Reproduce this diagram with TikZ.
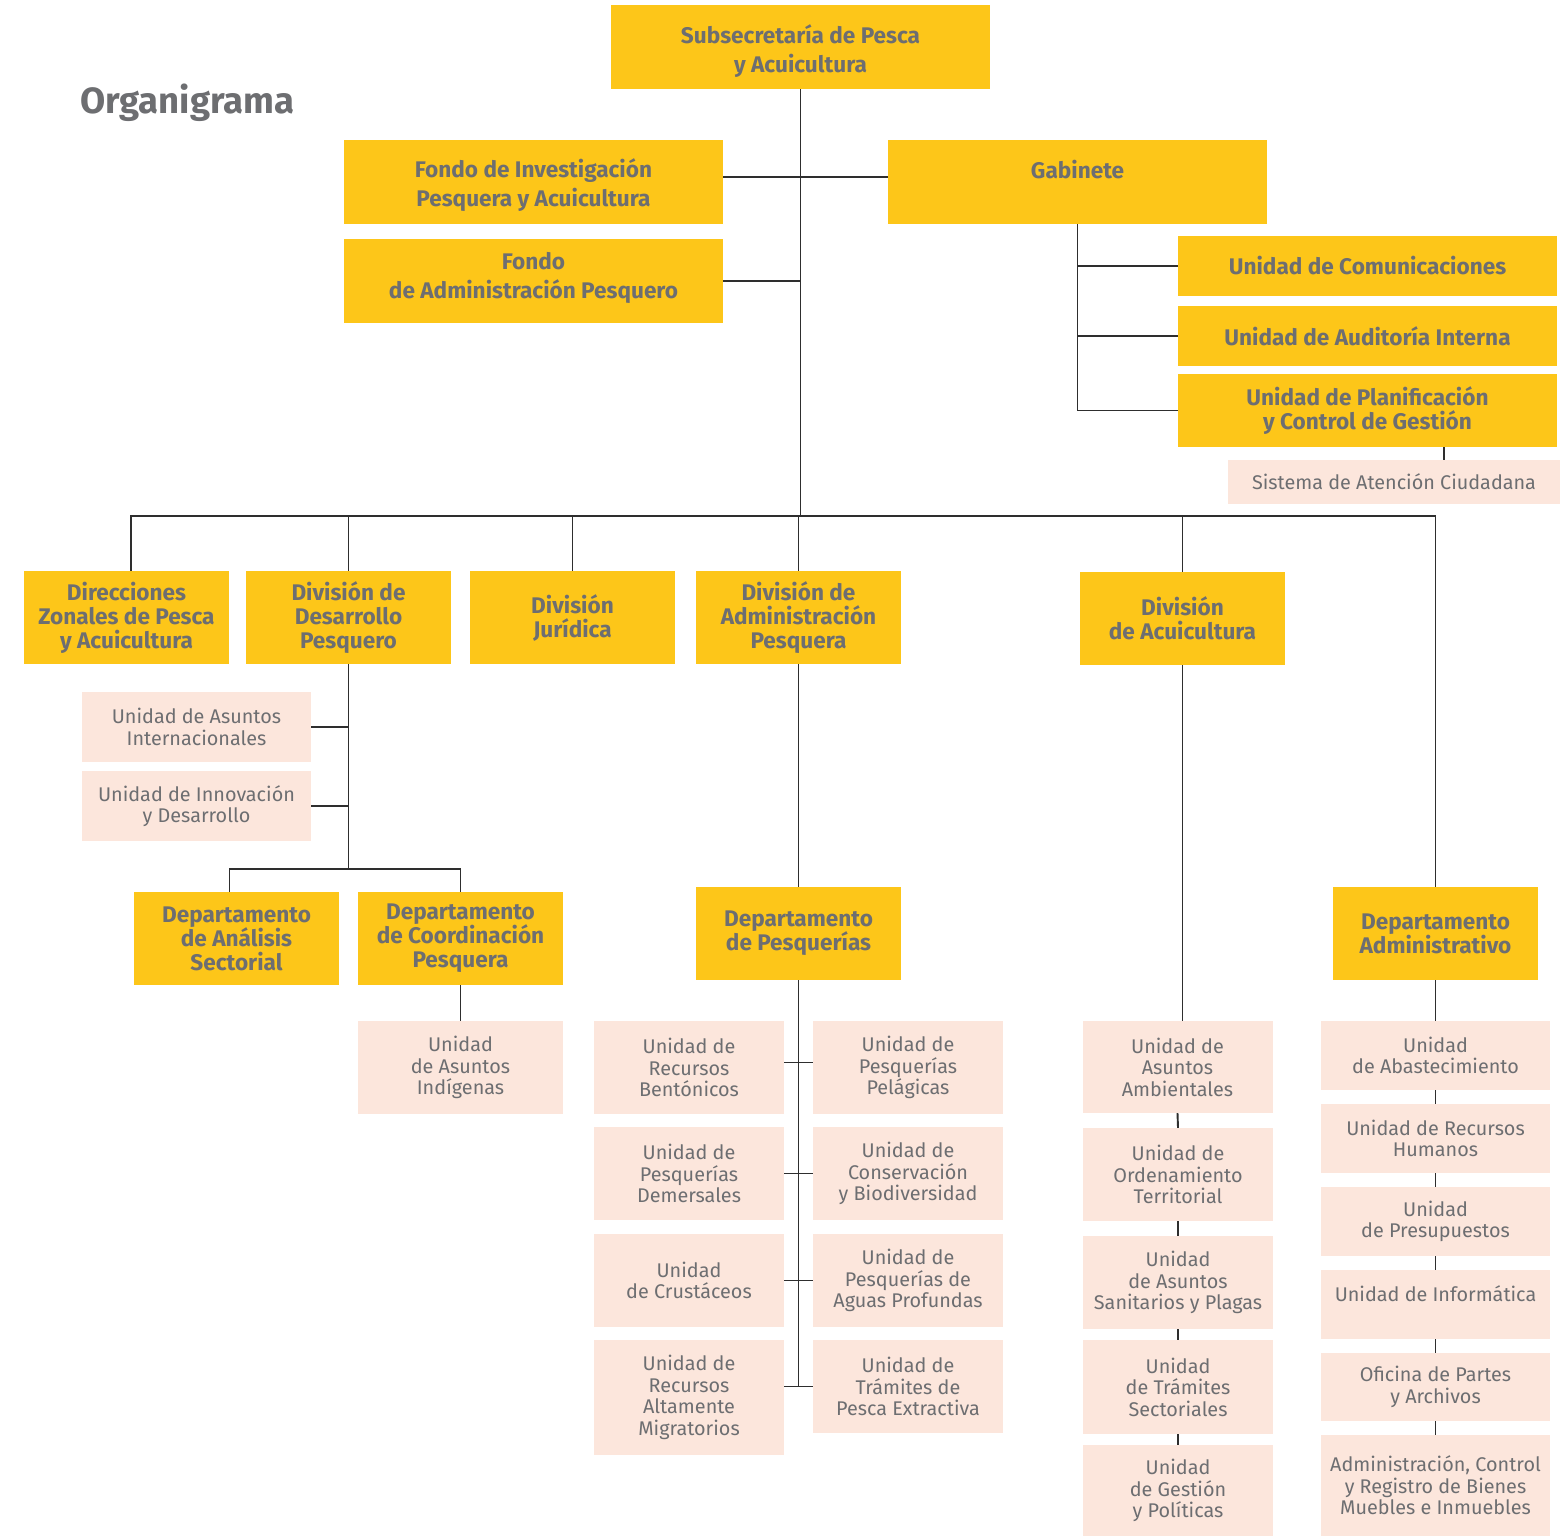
\documentclass[tikz,border=0pt]{standalone}
\usepackage{fontspec}
\setmainfont{Fira Sans}
\definecolor{ye}{HTML}{FDC619}
\definecolor{pk}{HTML}{FCE6DC}
\definecolor{tx}{HTML}{6D6E71}
\definecolor{ln}{HTML}{2E2E2E}
\begin{document}
\begin{tikzpicture}[x=1pt,y=-1pt,
  ybox/.style={fill=ye,inner sep=0pt,align=center,text=tx,font=\fontsize{22.6}{24}\selectfont\bfseries},
  ytop/.style={ybox,font=\fontsize{22.6}{29}\selectfont\bfseries},
  pbox/.style={fill=pk,inner sep=0pt,align=center,text=tx,font=\fontsize{19.8}{21.5}\selectfont},
  wd/.style={minimum width=#1pt},
  ht/.style={minimum height=#1pt},
  conn/.style={draw=ln,line width=1.9pt}]
\useasboundingbox (0,0) rectangle (1565,1536);
\node[text=tx,font=\fontsize{36.5}{40}\selectfont\bfseries,anchor=west,inner sep=0pt] (title) at (80,103) {Organigrama};
% top
\node[ytop,wd=379,ht=84] (sub) at (800.5,47) {\rule{0pt}{27pt}Subsecretaría de Pesca\\y Acuicultura};
\node[ytop,wd=379,ht=84] (fip) at (533.5,182) {\rule{0pt}{25pt}Fondo de Investigación\\Pesquera y Acuicultura};
\node[ytop,wd=379,ht=84] (gab) at (1077.5,182) {\rule{0pt}{21pt}Gabinete\\\mbox{}};
\node[ytop,wd=379,ht=84] (fap) at (533.5,281) {Fondo\\de Administración Pesquero\rule[-11pt]{0pt}{1pt}};
\node[ybox,wd=379,ht=60] (ucom) at (1367.5,266) {Unidad de Comunicaciones};
\node[ybox,wd=379,ht=60] (uaud) at (1367.5,336) {Unidad de Auditoría Interna};
\node[ybox,wd=379,ht=73] (upla) at (1367.5,410.5) {Unidad de Planificación\\y Control de Gestión};
\node[pbox,wd=332,ht=44] (sac) at (1394,482) {Sistema de Atención Ciudadana};
% level 2
\node[ybox,wd=205,ht=93] (dzon) at (126.5,617.5) {Direcciones\\Zonales de Pesca\\y Acuicultura};
\node[ybox,wd=205,ht=93] (ddes) at (348.5,617.5) {División de\\Desarrollo\\Pesquero};
\node[ybox,wd=205,ht=93] (djur) at (572.5,617.5) {División\\Jurídica};
\node[ybox,wd=205,ht=93] (dadm) at (798.5,617.5) {División de\\Administración\\Pesquera};
\node[ybox,wd=205,ht=93] (dacu) at (1182.5,618.5) {División\\de Acuicultura};
% desarrollo branch
\node[pbox,wd=229,ht=70] (uai) at (196.5,727) {Unidad de Asuntos\\Internacionales};
\node[pbox,wd=229,ht=70] (uid) at (196.5,806) {Unidad de Innovación\\y Desarrollo};
\node[ybox,wd=205,ht=93] (dana) at (236.5,938.5) {Departamento\\de Análisis\\Sectorial};
\node[ybox,wd=205,ht=93] (dcoo) at (460.5,938.5) {Departamento\\de Coordinación\\Pesquera};
\node[pbox,wd=205,ht=93] (uin) at (460.5,1067.5) {Unidad\\de Asuntos\\Indígenas};
% pesquerias
\node[ybox,wd=205,ht=93] (dpes) at (798.5,933.5) {Departamento\\de Pesquerías};
\node[pbox,wd=190,ht=93] (urb) at (689,1067.5) {Unidad de\\Recursos\\Bentónicos};
\node[pbox,wd=190,ht=93] (upd) at (689,1173.5) {Unidad de\\Pesquerías\\Demersales};
\node[pbox,wd=190,ht=93] (ucr) at (689,1280.5) {Unidad\\de Crustáceos};
\node[pbox,wd=190,ht=115] (uram) at (689,1397.5) {Unidad de\\Recursos\\Altamente\\Migratorios};
\node[pbox,wd=190,ht=93] (upp) at (908,1067.5) {Unidad de\\Pesquerías\\Pelágicas};
\node[pbox,wd=190,ht=93] (ucb) at (908,1173.5) {Unidad de\\Conservación\\y Biodiversidad};
\node[pbox,wd=190,ht=93] (uap) at (908,1280.5) {Unidad de\\Pesquerías de\\Aguas Profundas};
\node[pbox,wd=190,ht=93] (utp) at (908,1386.5) {Unidad de\\Trámites de\\Pesca Extractiva};
% acuicultura
\node[pbox,wd=190,ht=92] (uaa) at (1177.5,1067) {Unidad de\\Asuntos\\Ambientales};
\node[pbox,wd=190,ht=93] (uot) at (1178,1174.5) {Unidad de\\Ordenamiento\\Territorial};
\node[pbox,wd=190,ht=93] (uas) at (1178,1282.5) {Unidad\\de Asuntos\\Sanitarios y Plagas};
\node[pbox,wd=190,ht=94] (uts) at (1178,1387) {Unidad\\de Trámites\\Sectoriales};
\node[pbox,wd=190,ht=91] (ugp) at (1178,1490.5) {Unidad\\de Gestión\\y Políticas};
% administrativo
\node[ybox,wd=205,ht=93] (dadv) at (1435.5,933.5) {Departamento\\Administrativo};
\node[pbox,wd=229,ht=69] (uab) at (1435.5,1055.5) {Unidad\\de Abastecimiento};
\node[pbox,wd=229,ht=69] (urh) at (1435.5,1138.5) {Unidad de Recursos\\Humanos};
\node[pbox,wd=229,ht=69] (upr) at (1435.5,1221.5) {Unidad\\de Presupuestos};
\node[pbox,wd=229,ht=69] (uinf) at (1435.5,1304.5) {Unidad de Informática\\\mbox{}};
\node[pbox,wd=229,ht=68] (uopa) at (1435.5,1387) {Oficina de Partes\\y Archivos};
\node[pbox,wd=229,ht=101] (uacr) at (1435.5,1485.5) {Administración, Control\\y Registro de Bienes\\Muebles e Inmuebles};
% connectors
\coordinate (bus) at (800,516);
\coordinate (jdes) at (347,869);
\draw[conn] (sub.south) -- (sub.south |- bus);
\draw[conn] ([yshift=5pt]fip.east) -- ([yshift=5pt]gab.west);
\draw[conn] (fap.east) -- (fap.east -| sub.south);
\draw[conn] (gab.south) |- (upla.west);
\draw[conn] (ucom.west) -- (ucom.west -| gab.south);
\draw[conn] (uaud.west) -- (uaud.west -| gab.south);
\draw[conn] ([xshift=50pt]sac.north) -- ([xshift=50pt]sac.north |- upla.south);
\draw[conn] ([xshift=4.5pt]dzon.north) |- (bus) -| (dadv.north);
\draw[conn] (ddes.north) -- (ddes.north |- bus);
\draw[conn] (djur.north) -- (djur.north |- bus);
\draw[conn] (dadm.north) -- (dadm.north |- bus);
\draw[conn] (dacu.north) -- (dacu.north |- bus);
\draw[conn] (ddes.south) -- (ddes.south |- jdes);
\draw[conn] (uai.east) -- (uai.east -| ddes.south);
\draw[conn] (uid.east) -- (uid.east -| ddes.south);
\draw[conn] ([xshift=-7pt]dana.north) |- (jdes) -| (dcoo.north);
\draw[conn] (dcoo.south) -- (uin.north);
\draw[conn] (dadm.south) -- (dpes.north);
\draw[conn] (dpes.south) -- (dpes.south |- utp.west);
\draw[conn] ([yshift=5pt]urb.east) -- ([yshift=5pt]upp.west);
\draw[conn] (upd.east) -- (ucb.west);
\draw[conn] (ucr.east) -- (uap.west);
\draw[conn] (utp.west -| uram.east) -- (utp.west);
\draw[conn] (dacu.south) -- (uaa.north -| dacu.south);
\draw[conn] (uaa.south) -- (uot.north);
\draw[conn] (uot.south) -- (uas.north);
\draw[conn] (uas.south) -- (uts.north);
\draw[conn] (uts.south) -- (ugp.north);
\draw[conn] (dadv.south) -- (uab.north);
\draw[conn] (uab.south) -- (urh.north);
\draw[conn] (urh.south) -- (upr.north);
\draw[conn] (upr.south) -- (uinf.north);
\draw[conn] (uinf.south) -- (uopa.north);
\draw[conn] (uopa.south) -- (uacr.north);
\end{tikzpicture}
\end{document}
